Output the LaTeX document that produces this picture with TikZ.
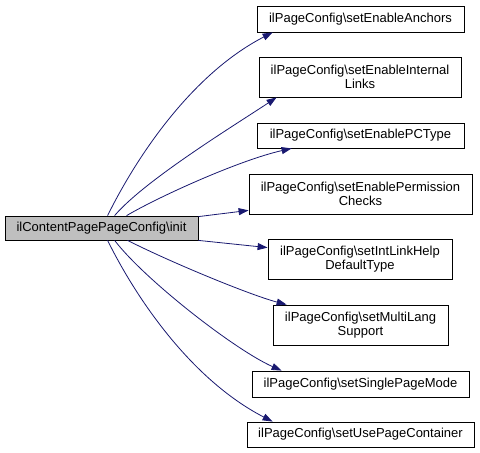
\documentclass[tikz,border=0pt]{standalone}
\usepackage{fontspec}
\setmainfont{Liberation Sans}
\usetikzlibrary{arrows.meta}
\definecolor{edgeblue}{HTML}{191970}
\definecolor{srcgrey}{HTML}{BFBFBF}
\tikzset{
  fbox/.style={draw=black, line width=0.8pt, fill=white, inner sep=0pt, align=center,
    font=\fontsize{13}{14.5}\selectfont, anchor=center},
  srcbox/.style={fbox, fill=srcgrey},
  callarrow/.style={draw=edgeblue, line width=0.8pt, -{Triangle[length=10pt,width=7pt]}, fill=none},
}
\begin{document}
\begin{tikzpicture}[x=1pt,y=-1pt]
\useasboundingbox (0,0) rectangle (480,453);
\node[srcbox, minimum width=193pt, minimum height=24pt] (src) at (101.5,228) {ilContentPagePageConfig\textbackslash init};
\node[fbox, minimum width=207pt, minimum height=26pt] (b1) at (360.5,19) {ilPageConfig\textbackslash setEnableAnchors};
\node[fbox, minimum width=202pt, minimum height=40pt] (b2) at (360,77) {ilPageConfig\textbackslash setEnableInternal\\Links};
\node[fbox, minimum width=207pt, minimum height=25pt] (b3) at (360.5,135.5) {ilPageConfig\textbackslash setEnablePCType};
\node[fbox, minimum width=223pt, minimum height=40pt] (b4) at (360.5,194) {ilPageConfig\textbackslash setEnablePermission\\Checks};
\node[fbox, minimum width=184pt, minimum height=40pt] (b5) at (360,259) {ilPageConfig\textbackslash setIntLinkHelp\\DefaultType};
\node[fbox, minimum width=175pt, minimum height=40pt] (b6) at (360.5,325) {ilPageConfig\textbackslash setMultiLang\\Support};
\node[fbox, minimum width=217pt, minimum height=26pt] (b7) at (360.5,384) {ilPageConfig\textbackslash setSinglePageMode};
\node[fbox, minimum width=227pt, minimum height=25pt] (b8) at (360.5,434.5) {ilPageConfig\textbackslash setUsePageContainer};

\draw[callarrow] ([xshift=103pt]src.north west) .. controls (135,160) and (190,75) .. ([xshift=16pt]b1.south west);
\draw[callarrow] ([xshift=110pt]src.north west) .. controls (145,180) and (235,125) .. ([xshift=18pt]b2.south west);
\draw[callarrow] ([xshift=122pt]src.north west) .. controls (160,196) and (240,160) .. ([xshift=35pt]b3.south west);
\draw[callarrow] ([yshift=-1pt]src.north east) -- ([yshift=4pt]b4.south west);
\draw[callarrow] (src.south east) -- ([yshift=-9pt]b5.north west);
\draw[callarrow] ([xshift=123pt]src.south west) .. controls (170,262) and (250,295) .. ([xshift=14pt]b6.north west);
\draw[callarrow] ([xshift=110pt]src.south west) .. controls (145,280) and (235,350) .. ([xshift=30pt]b7.north west);
\draw[callarrow] ([xshift=103pt]src.south west) .. controls (135,296) and (190,379) .. ([xshift=26pt]b8.north west);
\end{tikzpicture}
\end{document}
